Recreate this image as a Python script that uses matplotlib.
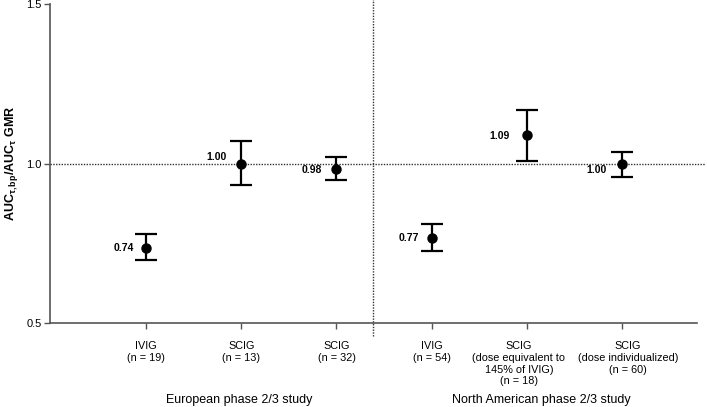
import matplotlib
matplotlib.use("Agg")
import matplotlib.pyplot as plt
from matplotlib.transforms import blended_transform_factory

plt.rcParams['font.family'] = ['Liberation Sans', 'DejaVu Sans']
plt.rcParams['mathtext.fontset'] = 'custom'
plt.rcParams['mathtext.rm'] = 'Liberation Sans'
plt.rcParams['mathtext.bf'] = 'Liberation Sans:bold'
plt.rcParams['mathtext.it'] = 'Liberation Sans:italic'

# ---- data ----
categories = ["IVIG\n(n = 19)", "SCIG\n(n = 13)", "SCIG\n(n = 32)",
              "IVIG\n(n = 54)", "SCIG\n(dose equivalent to\n145% of IVIG)\n(n = 18)",
              "SCIG\n(dose individualized)\n(n = 60)"]
gmr = [0.735, 1.00, 0.982, 0.766, 1.088, 0.997]
ci_low = [0.696, 0.933, 0.947, 0.727, 1.009, 0.958]
ci_high = [0.779, 1.069, 1.019, 0.811, 1.169, 1.037]
value_labels = ["0.74", "1.00", "0.98", "0.77", "1.09", "1.00"]
groups = ["European phase 2/3 study", "North American phase 2/3 study"]
yticks = [0.5, 1.0, 1.5]

# style: label offsets (pixels) and tick label horizontal nudges (pixels)
label_offsets = [(-12, 0), (-15, 7), (-14, -1), (-13, 0), (-17, -1), (-16, -6)]
tick_nudges = [0, 0, 0, 0, -8, 6]

fig = plt.figure(figsize=(7.07, 4.07), dpi=100)
W, H = 707, 407
ax = fig.add_axes([50 / W, (H - 323) / H, (705 - 50) / W, (323 - 4) / H])

x = list(range(len(categories)))
yerr = [[g - l for g, l in zip(gmr, ci_low)], [h - g for g, h in zip(gmr, ci_high)]]

ax.axhline(1.0, color='#333333', lw=1.0, ls=(0, (1, 1)), zorder=1)

ax.errorbar(x, gmr, yerr=yerr, fmt='o', color='black', ms=6.5, elinewidth=1.6,
            capsize=8, capthick=1.6, zorder=3)

for xi, g, lab, (dx, dy) in zip(x, gmr, value_labels, label_offsets):
    ax.annotate(lab, (xi, g), xytext=(dx, dy), textcoords='offset pixels',
                ha='right', va='center', fontsize=7.5, fontweight='bold')

ax.set_xlim(-1.008, 5.87)
ax.set_ylim(0.5, 1.5)
ax.set_yticks(yticks)
ax.set_yticklabels([f"{t:.1f}" for t in yticks])
ax.set_xticks(x)
ax.set_xticklabels([""] * len(x))
xtrans = ax.get_xaxis_transform()
for xi, cat, nd in zip(x, categories, tick_nudges):
    ax.annotate(cat, (xi, 0), xycoords=xtrans, xytext=(nd, -18),
                textcoords='offset pixels', ha='center', va='top',
                multialignment='center', fontsize=7.8, linespacing=1.22,
                annotation_clip=False)

for s in ['top', 'right']:
    ax.spines[s].set_visible(False)
for s in ['left', 'bottom']:
    ax.spines[s].set_color('#555555')
    ax.spines[s].set_linewidth(1.2)
ax.spines['bottom'].set_bounds(-1.008, 5.79)
ax.tick_params(axis='both', colors='#555555', length=4, width=1.0, labelcolor='black')
ax.tick_params(axis='y', labelsize=8, pad=2)

# vertical separator
ax.plot([2.385, 2.385], [-0.04, 1.02], transform=xtrans,
        color='#333333', lw=1.0, ls=(0, (1, 1)), clip_on=False, zorder=1)

ax.set_ylabel(r'$\mathbf{AUC_{\tau,bp}/AUC_{\tau}}$ GMR', fontsize=9,
              fontweight='bold')
ax.yaxis.set_label_coords(-30 / 655, 0.5)

trans = blended_transform_factory(ax.transData, fig.transFigure)
ax.text(0.98, 1 - 400 / H, groups[0], transform=trans, ha='center', va='center', fontsize=9)
ax.text(4.15, 1 - 400 / H, groups[1], transform=trans, ha='center', va='center', fontsize=9)

fig.savefig("out.png", dpi=100)
